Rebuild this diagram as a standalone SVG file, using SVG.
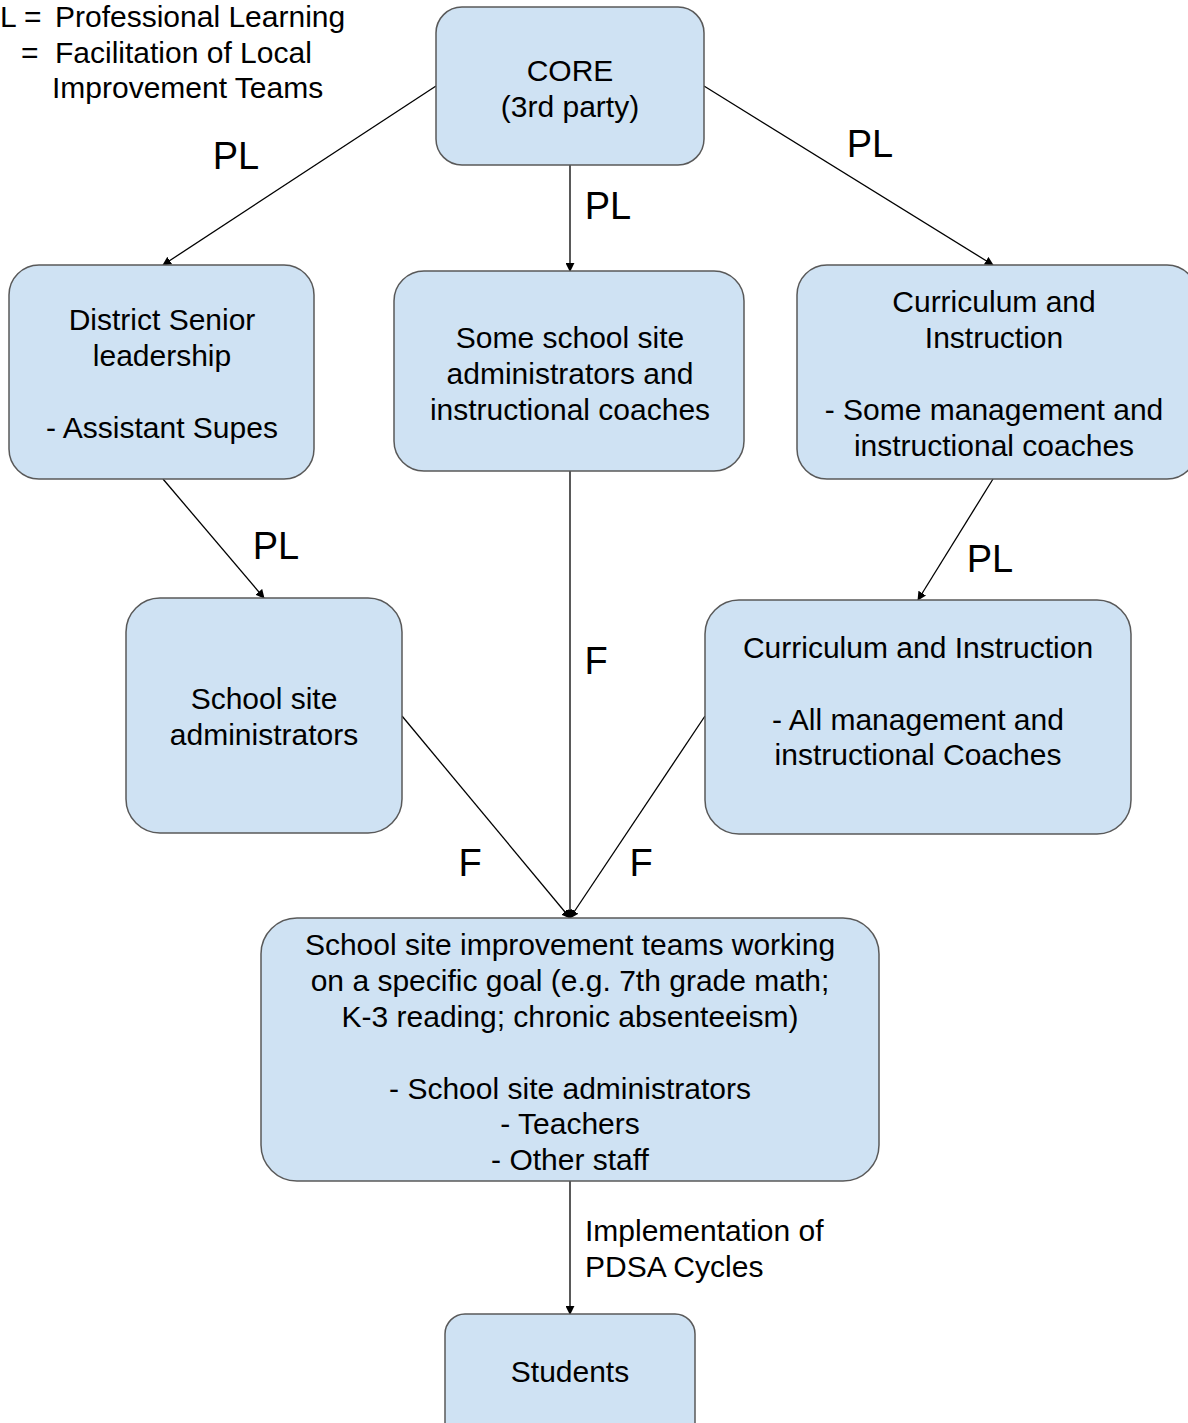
<svg xmlns="http://www.w3.org/2000/svg" width="1188" height="1423" viewBox="0 0 1188 1423">
<defs>
<style>
.box{fill:#cfe2f3;stroke:#595959;stroke-width:1.5}
.t{font-family:"Liberation Sans",Arial,sans-serif;font-size:30px;fill:#000;text-anchor:middle}
.tl{font-family:"Liberation Sans",Arial,sans-serif;font-size:30px;fill:#000}
.lab{font-family:"Liberation Sans",Arial,sans-serif;font-size:38px;fill:#000;text-anchor:middle}
.c{stroke:#000;stroke-width:1.3;fill:none;marker-end:url(#ah)}
</style>
<marker id="ah" viewBox="0 0 10 10" refX="9" refY="5" markerWidth="9" markerHeight="9" markerUnits="userSpaceOnUse" orient="auto">
<path d="M0,0 L10,5 L0,10 z" fill="#000"/>
</marker>
</defs>
<rect width="1188" height="1423" fill="#fff"/>
<g id="legend">
<text class="tl" x="0" y="27">L =</text>
<text class="tl" x="55" y="27">Professional Learning</text>
<text class="tl" x="21" y="63">=</text>
<text class="tl" x="55" y="63">Facilitation of Local</text>
<text class="tl" x="52" y="98">Improvement Teams</text>
</g>
<g id="connectors">
<line class="c" x1="436" y1="86" x2="163" y2="265"/>
<line class="c" x1="570" y1="165" x2="570" y2="271"/>
<line class="c" x1="704" y1="86" x2="993" y2="265"/>
<line class="c" x1="163" y1="479" x2="264" y2="598"/>
<line class="c" x1="993" y1="479" x2="918" y2="600"/>
<line class="c" x1="570" y1="471" x2="570" y2="918"/>
<line class="c" x1="402" y1="716" x2="570" y2="918"/>
<line class="c" x1="705" y1="716" x2="570" y2="918"/>
<line class="c" x1="570" y1="1181" x2="570" y2="1314"/>
<text class="lab" x="236" y="169">PL</text>
<text class="lab" x="608" y="219">PL</text>
<text class="lab" x="870" y="157">PL</text>
<text class="lab" x="276" y="559">PL</text>
<text class="lab" x="990" y="572">PL</text>
<text class="lab" x="596" y="674">F</text>
<text class="lab" x="470" y="876">F</text>
<text class="lab" x="641" y="876">F</text>
<text class="tl" x="585" y="1241">Implementation of</text>
<text class="tl" x="585" y="1277">PDSA Cycles</text>
</g>
<g id="core">
<rect class="box" x="436" y="7" width="268" height="158" rx="26"/>
<text class="t" x="570" y="81">CORE</text>
<text class="t" x="570" y="117">(3rd party)</text>
</g>
<g id="district">
<rect class="box" x="9" y="265" width="305" height="214" rx="30"/>
<text class="t" x="162" y="330">District Senior</text>
<text class="t" x="162" y="366">leadership</text>
<text class="t" x="162" y="438">- Assistant Supes</text>
</g>
<g id="someschool">
<rect class="box" x="394" y="271" width="350" height="200" rx="30"/>
<text class="t" x="570" y="348">Some school site</text>
<text class="t" x="570" y="384">administrators and</text>
<text class="t" x="570" y="420">instructional coaches</text>
</g>
<g id="ci-top">
<rect class="box" x="797" y="265" width="400" height="214" rx="30"/>
<text class="t" x="994" y="312">Curriculum and</text>
<text class="t" x="994" y="348">Instruction</text>
<text class="t" x="994" y="420">- Some management and</text>
<text class="t" x="994" y="456">instructional coaches</text>
</g>
<g id="siteadmins">
<rect class="box" x="126" y="598" width="276" height="235" rx="34"/>
<text class="t" x="264" y="709">School site</text>
<text class="t" x="264" y="745">administrators</text>
</g>
<g id="ci-all">
<rect class="box" x="705" y="600" width="426" height="234" rx="34"/>
<text class="t" x="918" y="658">Curriculum and Instruction</text>
<text class="t" x="918" y="730">- All management and</text>
<text class="t" x="918" y="765">instructional Coaches</text>
</g>
<g id="teams">
<rect class="box" x="261" y="918" width="618" height="263" rx="36"/>
<text class="t" x="570" y="955">School site improvement teams working</text>
<text class="t" x="570" y="991">on a specific goal (e.g. 7th grade math;</text>
<text class="t" x="570" y="1027">K-3 reading; chronic absenteeism)</text>
<text class="t" x="570" y="1099">- School site administrators</text>
<text class="t" x="570" y="1134">- Teachers</text>
<text class="t" x="570" y="1170">- Other staff</text>
</g>
<g id="students">
<rect class="box" x="445" y="1314" width="250" height="130" rx="20"/>
<text class="t" x="570" y="1382">Students</text>
</g>
</svg>
